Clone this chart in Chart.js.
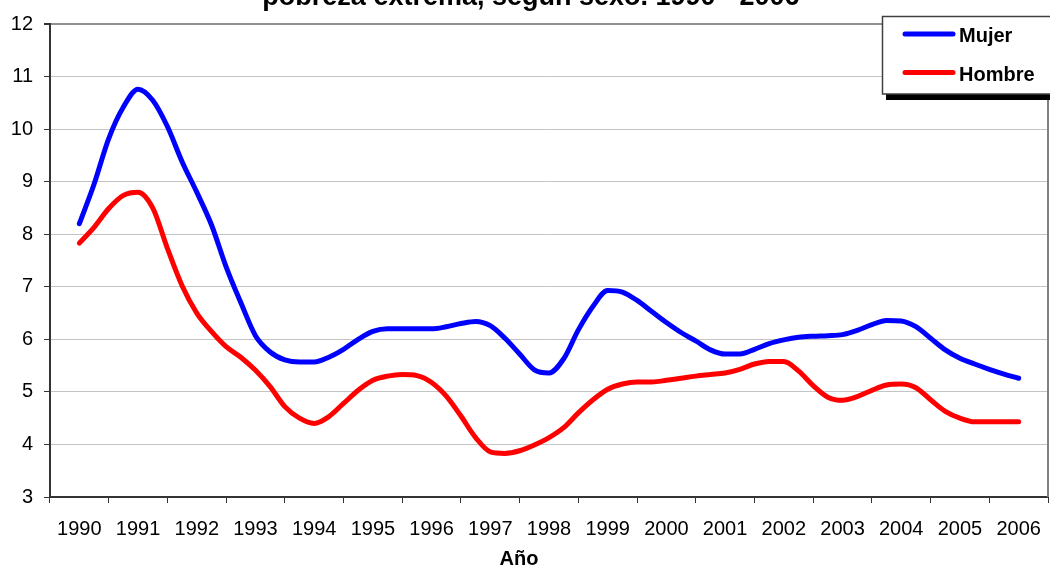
<!DOCTYPE html>
<html>
<head>
<meta charset="utf-8">
<script src="https://cdn.jsdelivr.net/npm/chart.js@4.4.0/dist/chart.umd.min.js"></script>
<style>
html, body { margin: 0; padding: 0; background: #fff; }
</style>
</head>
<body>
<canvas id="chart" width="1050" height="568"></canvas>
<script>
const titleText = 'pobreza extrema, según sexo. 1990 - 2006';
const axisTitle = 'Año';
const seriesNames = ['Mujer', 'Hombre'];
const seriesColors = ['#0000ff', '#ff0000'];

const yearTicks = [1990, 1991, 1992, 1993, 1994, 1995, 1996, 1997, 1998,
  1999, 2000, 2001, 2002, 2003, 2004, 2005, 2006];

// sampling points (quarters)
const sampleYears = [
  1990, 1990.25, 1990.5, 1990.75, 1991, 1991.25, 1991.5, 1991.75,
  1992, 1992.25, 1992.5, 1992.75, 1993, 1993.25, 1993.5, 1993.75,
  1994, 1994.25, 1994.5, 1994.75, 1995, 1995.25, 1995.5, 1995.75,
  1996, 1996.25, 1996.5, 1996.75, 1997, 1997.25, 1997.5, 1997.75,
  1998, 1998.25, 1998.5, 1998.75, 1999, 1999.25, 1999.5, 1999.75,
  2000, 2000.25, 2000.5, 2000.75, 2001, 2001.25, 2001.5, 2001.75,
  2002, 2002.25, 2002.5, 2002.75, 2003, 2003.25, 2003.5, 2003.75,
  2004, 2004.25, 2004.5, 2004.75, 2005, 2005.25, 2005.5, 2005.75,
  2006
];

const mujer = [
  8.20, 8.95, 9.82, 10.42, 10.76, 10.55, 10.05, 9.38,
  8.80, 8.18, 7.38, 6.70, 6.07, 5.76, 5.61, 5.57,
  5.57, 5.66, 5.81, 6.00, 6.15, 6.20, 6.20, 6.20,
  6.20, 6.24, 6.30, 6.34, 6.26, 6.02, 5.72, 5.42,
  5.36, 5.63, 6.18, 6.63, 6.93, 6.90, 6.74, 6.53,
  6.32, 6.13, 5.97, 5.80, 5.72, 5.72, 5.81, 5.92,
  5.99, 6.04, 6.06, 6.07, 6.09, 6.17, 6.28, 6.36,
  6.35, 6.24, 6.02, 5.80, 5.64, 5.53, 5.43, 5.34,
  5.26
];

const hombre = [
  7.83, 8.13, 8.49, 8.74, 8.80, 8.50, 7.73, 7.02,
  6.50, 6.15, 5.86, 5.66, 5.41, 5.10, 4.72, 4.50,
  4.40, 4.53, 4.78, 5.03, 5.22, 5.30, 5.33, 5.31,
  5.18, 4.92, 4.54, 4.13, 3.86, 3.83, 3.88, 3.99,
  4.13, 4.32, 4.60, 4.85, 5.05, 5.15, 5.19, 5.19,
  5.22, 5.26, 5.30, 5.33, 5.36, 5.43, 5.53, 5.58,
  5.58, 5.40, 5.12, 4.90, 4.84, 4.91, 5.03, 5.13,
  5.15, 5.08, 4.85, 4.63, 4.50, 4.43, 4.43, 4.43,
  4.43
];

const FONT = '"Liberation Sans", Arial, sans-serif';

function toPoints(values) {
  return values.map((v, i) => ({ x: sampleYears[i], y: v }));
}

const overlay = {
  id: 'overlay',
  beforeDatasetsDraw(chart) {
    const { ctx, chartArea: a } = chart;
    ctx.save();
    ctx.strokeStyle = '#808080';
    ctx.lineWidth = 2;
    ctx.beginPath();
    ctx.moveTo(a.right, a.top);
    ctx.lineTo(a.right, a.bottom);
    ctx.stroke();
    ctx.restore();
  },
  afterDraw(chart) {
    const ctx = chart.ctx;
    ctx.save();
    ctx.fillStyle = '#000';
    ctx.textBaseline = 'alphabetic';
    ctx.textAlign = 'center';
    ctx.font = 'bold 27px ' + FONT;
    ctx.fillText(titleText, 531, 5);
    ctx.font = 'bold 20px ' + FONT;
    ctx.fillText(axisTitle, 519, 565);

    // legend box with shadow
    ctx.fillStyle = '#000';
    ctx.fillRect(886, 94, 170, 6);
    ctx.fillStyle = '#fff';
    ctx.fillRect(882, 16, 175, 78);
    ctx.strokeStyle = '#404040';
    ctx.lineWidth = 1.5;
    ctx.strokeRect(882.5, 16.5, 175, 77.5);

    const rows = [34, 72.5];
    ctx.textAlign = 'left';
    ctx.lineCap = 'round';
    chart.data.datasets.forEach((ds, i) => {
      ctx.strokeStyle = ds.borderColor;
      ctx.lineWidth = 5;
      ctx.beginPath();
      ctx.moveTo(905, rows[i]);
      ctx.lineTo(953, rows[i]);
      ctx.stroke();
      ctx.fillStyle = '#000';
      ctx.fillText(ds.label, 959, rows[i] + 8);
    });
    ctx.restore();
  }
};

new Chart(document.getElementById('chart'), {
  type: 'line',
  data: {
    datasets: [
      { label: seriesNames[0], data: toPoints(mujer), borderColor: seriesColors[0] },
      { label: seriesNames[1], data: toPoints(hombre), borderColor: seriesColors[1] }
    ]
  },
  options: {
    responsive: false,
    devicePixelRatio: 1,
    animation: false,
    layout: { padding: { top: 24, right: 2, left: 0, bottom: 0 } },
    elements: {
      point: { radius: 0 },
      line: {
        borderWidth: 5,
        cubicInterpolationMode: 'monotone',
        borderCapStyle: 'round',
        borderJoinStyle: 'round',
        fill: false
      }
    },
    plugins: {
      legend: { display: false },
      title: { display: false },
      tooltip: { enabled: false }
    },
    scales: {
      x: {
        type: 'linear',
        min: 1989.5,
        max: 2006.5,
        afterBuildTicks: (scale) => { scale.ticks = yearTicks.map(v => ({ value: v })); },
        afterFit: (scale) => {
          scale.height = 71;
          scale.paddingLeft = 0;
          scale.paddingRight = 0;
        },
        grid: {
          offset: true,
          drawOnChartArea: false,
          drawTicks: true,
          tickLength: 6,
          tickColor: '#333'
        },
        border: { display: true, color: '#333', width: 2 },
        ticks: {
          autoSkip: false,
          maxRotation: 0,
          padding: 14,
          color: '#000',
          font: { family: FONT, size: 20 },
          callback: (v) => String(v)
        }
      },
      y: {
        min: 3,
        max: 12,
        afterFit: (scale) => {
          scale.width = 50;
          scale.paddingTop = 0;
          scale.paddingBottom = 0;
        },
        grid: {
          color: (c) => c.tick && c.tick.value === 12 ? '#909090' : '#c4c4c4',
          lineWidth: (c) => c.tick && c.tick.value === 12 ? 2 : 1,
          tickLength: 6,
          tickColor: '#333'
        },
        border: { display: true, color: '#333', width: 2 },
        ticks: {
          stepSize: 1,
          padding: 11,
          color: '#000',
          font: { family: FONT, size: 20 }
        }
      }
    }
  },
  plugins: [overlay]
});
</script>
</body>
</html>
